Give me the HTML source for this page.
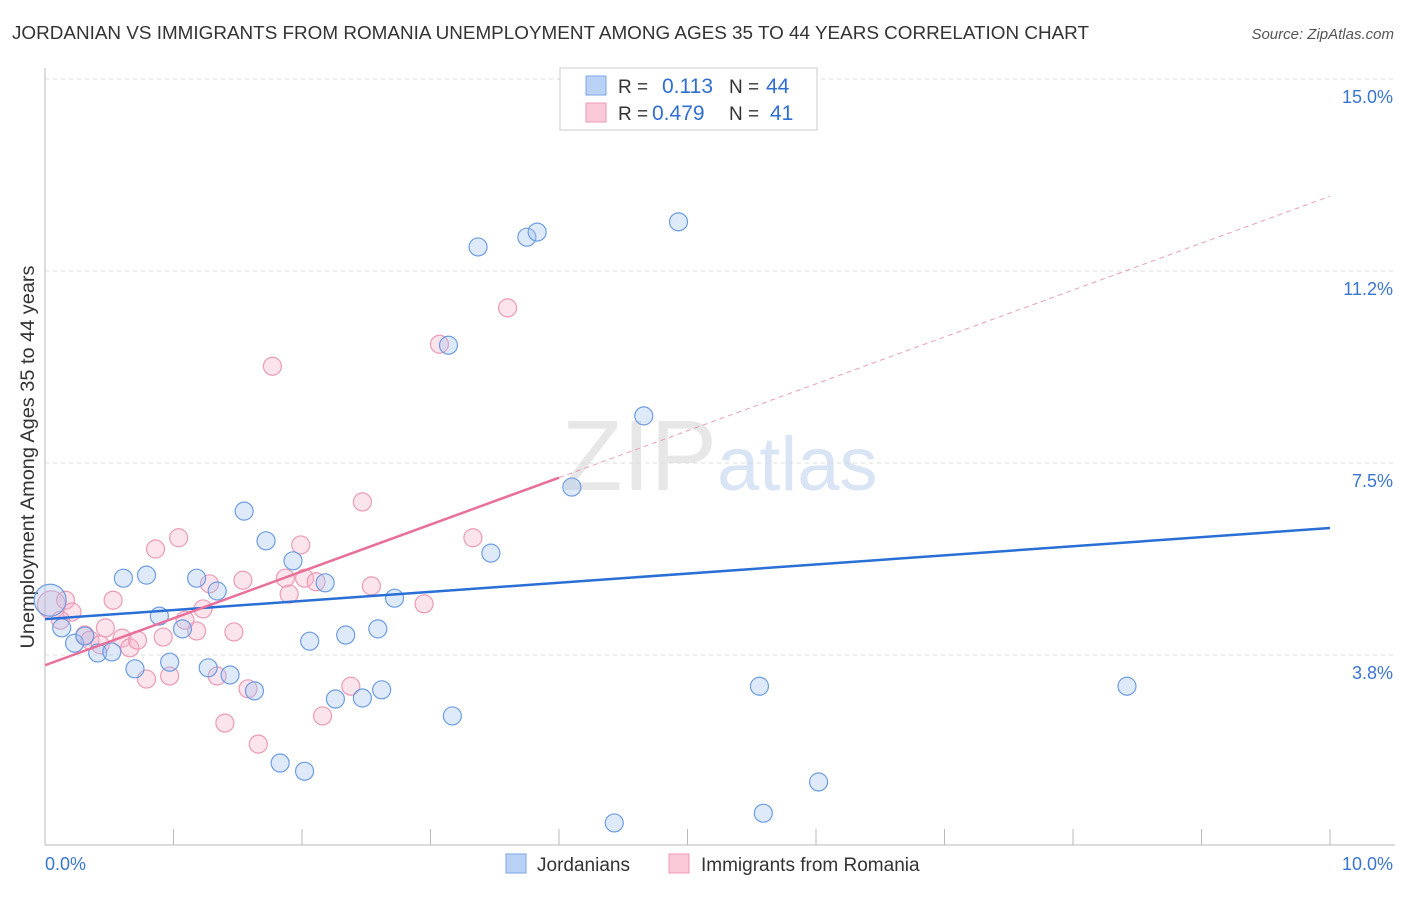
<!DOCTYPE html>
<html><head><meta charset="utf-8">
<style>
body{margin:0;background:#fff;font-family:"Liberation Sans",sans-serif;}
svg text{font-family:"Liberation Sans",sans-serif;}
</style></head>
<body>
<svg id="chart" width="1406" height="892" xmlns="http://www.w3.org/2000/svg">
<text x="12" y="39" font-size="18.5" fill="#333" textLength="1077" lengthAdjust="spacingAndGlyphs">JORDANIAN VS IMMIGRANTS FROM ROMANIA UNEMPLOYMENT AMONG AGES 35 TO 44 YEARS CORRELATION CHART</text>
<text x="1394" y="39" font-size="15" fill="#555" text-anchor="end" font-style="italic">Source: ZipAtlas.com</text>
<text transform="translate(34,457) rotate(-90)" font-size="19" fill="#333" text-anchor="middle" textLength="383" lengthAdjust="spacingAndGlyphs">Unemployment Among Ages 35 to 44 years</text>
<g id="grid"></g>
<g id="axes"></g>
<text x="717" y="490" font-size="100" text-anchor="end" fill="#ddd" font-family="Liberation Serif" opacity="0.7">ZIP</text>
<text x="717" y="490" font-size="76" fill="#c9daf0" opacity="0.7">atlas</text>
<g id="pink-pts"></g>
<g id="blue-pts"></g>
<g id="lines"></g>
<g>
<rect x="560" y="68" width="257" height="62" fill="#fff" stroke="#ccc"/>
<rect x="586" y="76" width="20" height="19" fill="#b9d2f5" stroke="#7aa6e6"/>
<text x="618" y="93" font-size="19" fill="#333">R =</text>
<text x="662" y="93" font-size="21" fill="#2f6fd1">0.113</text>
<text x="729" y="93" font-size="19" fill="#333">N =</text>
<text x="766" y="93" font-size="21" fill="#2f6fd1">44</text>
<rect x="586" y="103" width="20" height="19" fill="#fbcad8" stroke="#ec9ab5"/>
<text x="618" y="120" font-size="19" fill="#333">R =</text>
<text x="652" y="120" font-size="21" fill="#2f6fd1">0.479</text>
<text x="729" y="120" font-size="19" fill="#333">N =</text>
<text x="770" y="120" font-size="21" fill="#2f6fd1">41</text>
</g>
<g>
<rect x="506" y="854" width="20" height="19" fill="#b9d2f5" stroke="#7aa6e6"/>
<text x="537" y="871" font-size="19" fill="#333">Jordanians</text>
<rect x="669" y="854" width="20" height="19" fill="#fbcad8" stroke="#ec9ab5"/>
<text x="701" y="871" font-size="19" fill="#333">Immigrants from Romania</text>
</g>
</svg>
<script>
const xTicks=[0,1,2,3,4,5,6,7,8,9,10];
const yTicks=[3.75,7.5,11.25,15];
const yTickLabels=["3.8%","7.5%","11.2%","15.0%"];
const xTickLabels=["0.0%","10.0%"];
const blueX=[0.04,0.13,0.23,0.31,0.41,0.52,0.61,0.70,0.79,0.89,0.97,1.07,1.18,1.27,1.34,1.44,1.55,1.63,1.72,1.83,1.93,2.02,2.06,2.18,2.26,2.34,2.47,2.59,2.62,2.72,3.14,3.17,3.37,3.47,3.75,3.83,4.10,4.43,4.66,4.93,5.56,5.59,6.02,8.42];
const blueY=[4.82,4.28,3.98,4.12,3.79,3.81,5.25,3.48,5.31,4.51,3.61,4.26,5.25,3.50,5.00,3.36,6.56,3.05,5.98,1.64,5.59,1.48,4.02,5.16,2.89,4.14,2.91,4.26,3.07,4.86,9.80,2.56,11.72,5.74,11.91,12.01,7.03,0.47,8.42,12.21,3.14,0.66,1.27,3.14];
const pinkX=[0.05,0.16,0.21,0.12,0.31,0.35,0.43,0.47,0.53,0.60,0.66,0.72,0.79,0.86,0.92,0.97,1.04,1.09,1.18,1.23,1.28,1.34,1.40,1.47,1.54,1.58,1.66,1.77,1.87,1.90,1.99,2.02,2.11,2.16,2.38,2.47,2.54,2.95,3.07,3.33,3.60];
const pinkY=[4.73,4.82,4.59,4.43,4.14,4.04,3.95,4.28,4.82,4.08,3.89,4.04,3.28,5.82,4.10,3.34,6.04,4.43,4.22,4.65,5.14,3.34,2.42,4.20,5.21,3.09,2.01,9.39,5.25,4.94,5.90,5.25,5.18,2.56,3.14,6.74,5.10,4.75,9.82,6.04,10.53];
const blueTrend=[4.45,6.23];
const pinkTrend=[3.55,12.71];
const pinkSolidEnd=4.0;

const X=v=>45+v*128.5;
const Y=v=>847-v*51.2;
const NS="http://www.w3.org/2000/svg";
function mk(tag,parent,attrs){const e=document.createElementNS(NS,tag);for(const k in attrs)e.setAttribute(k,attrs[k]);parent.appendChild(e);return e;}
const grid=document.getElementById('grid'),axes=document.getElementById('axes');
yTicks.forEach((t,i)=>{
  const l=mk('line',grid,{x1:45,x2:1395,y1:Y(t),y2:Y(t),stroke:'#ddd','stroke-dasharray':'4,4'});
  
  
  const tx=mk('text',axes,{x:1393,y:Y(t)+24,'font-size':18,fill:'#3a75d0','text-anchor':'end'});
  tx.textContent=yTickLabels[i];
  
  
});
const ax=mk('line',axes,{x1:45,x2:45,y1:68,y2:845,stroke:'#bbb'});


const bx=mk('line',axes,{x1:45,x2:1395,y1:845,y2:845,stroke:'#bbb'});


xTicks.forEach(t=>{
  const l=mk('line',axes,{x1:X(t),x2:X(t),y1:829,y2:845,stroke:'#bbb'});
  
  
});
[[0,'start',45],[10,'end',1393]].forEach((d,i)=>{
  const tx=mk('text',axes,{x:d[2],y:870,'font-size':18,fill:'#3a75d0','text-anchor':d[1]});
  tx.textContent=xTickLabels[i];
  
  
});
const pg=document.getElementById('pink-pts'),bg=document.getElementById('blue-pts');
pinkX.forEach((x,i)=>{
  const c=mk('circle',pg,{cx:X(x),cy:Y(pinkY[i]),r:i===0?14:9,fill:'rgba(246,178,200,0.35)',stroke:'#ec9ab5','stroke-width':1.2});
  
  
});
blueX.forEach((x,i)=>{
  const c=mk('circle',bg,{cx:X(x),cy:Y(blueY[i]),r:i===0?16:9,fill:'rgba(160,195,240,0.35)',stroke:'#6d9de2','stroke-width':1.2});
  
  
});
const lg=document.getElementById('lines');
const pAt=x=>pinkTrend[0]+(pinkTrend[1]-pinkTrend[0])*x/10;
const l1=mk('line',lg,{x1:X(0),y1:Y(blueTrend[0]),x2:X(10),y2:Y(blueTrend[1]),stroke:'#2a6fd6','stroke-width':2.5});


const l2=mk('line',lg,{x1:X(0),y1:Y(pAt(0)),x2:X(pinkSolidEnd),y2:Y(pAt(pinkSolidEnd)),stroke:'#e8709a','stroke-width':2.5});


const l3=mk('line',lg,{x1:X(pinkSolidEnd),y1:Y(pAt(pinkSolidEnd)),x2:X(10),y2:Y(pAt(10)),stroke:'#e8a0b8','stroke-width':1,'stroke-dasharray':'5,4'});


</script>
</body></html>
